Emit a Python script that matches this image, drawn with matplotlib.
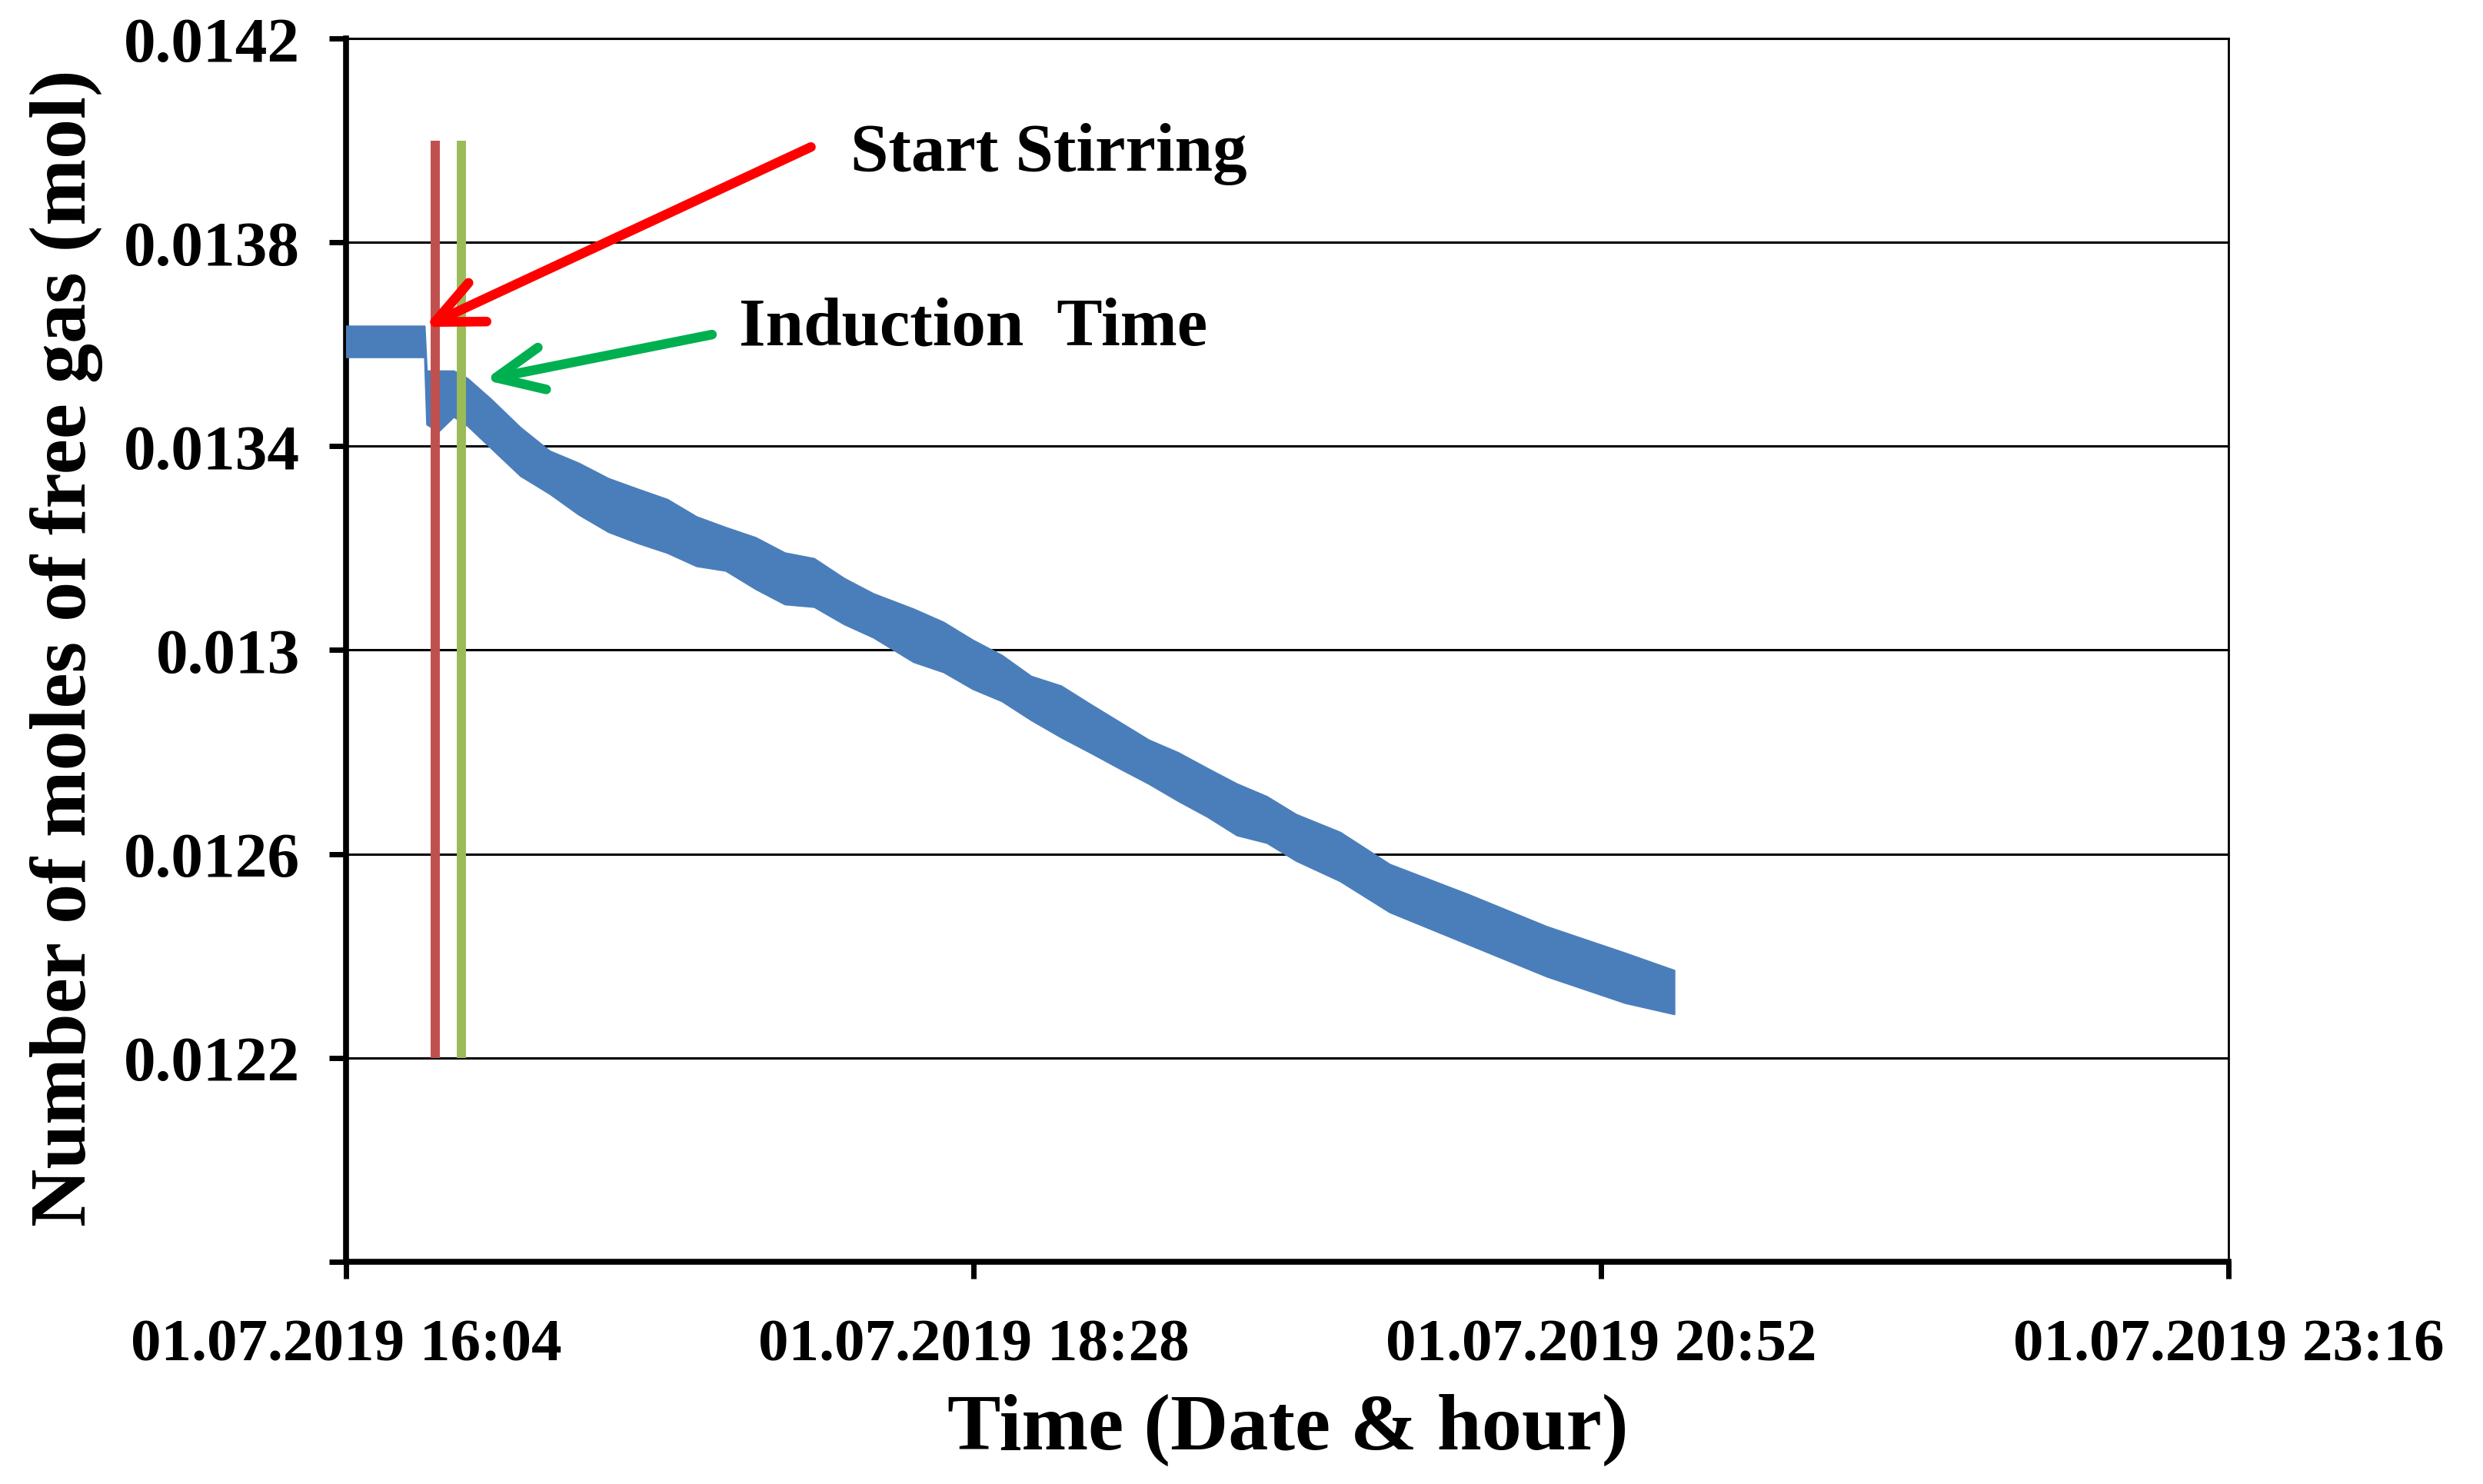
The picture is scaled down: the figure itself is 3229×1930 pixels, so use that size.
import matplotlib
matplotlib.use('Agg')
import matplotlib.pyplot as plt

# minutes after 01.07.2019 16:04 and the upper / lower edges of the noisy gas curve
minutes = [0, 18.0, 18.5, 21.2, 24.7, 27.9, 33.2, 40.0, 46.7, 53.4, 60.2, 67.0, 73.7, 80.4,
           87.1, 94.0, 100.7, 107.4, 114.3, 121.0, 130.2, 137.1, 143.8, 150.5, 157.2, 164.1,
           170.8, 177.5, 184.2, 191.0, 197.7, 204.4, 211.3, 218.0, 228.1, 239.5, 257.5, 275.5,
           293.5, 304.8]
upper = [0.013636, 0.013636, 0.013548, 0.013548, 0.013548, 0.013533, 0.013493, 0.013437,
         0.013391, 0.013367, 0.013337, 0.013316, 0.013296, 0.013262, 0.013241, 0.013221,
         0.013191, 0.013180, 0.013141, 0.013111, 0.013081, 0.013055, 0.013020, 0.012990,
         0.012949, 0.012930, 0.012894, 0.012859, 0.012824, 0.012799, 0.012768, 0.012738,
         0.012713, 0.012678, 0.012643, 0.012580, 0.012521, 0.012458, 0.012406, 0.012372]
lower = [0.013575, 0.013575, 0.013443, 0.013429, 0.013458, 0.013440, 0.013397, 0.013342,
         0.013307, 0.013266, 0.013232, 0.013210, 0.013191, 0.013165, 0.013156, 0.013120,
         0.013090, 0.013085, 0.013051, 0.013025, 0.012977, 0.012957, 0.012924, 0.012900,
         0.012863, 0.012829, 0.012799, 0.012768, 0.012738, 0.012704, 0.012673, 0.012637,
         0.012622, 0.012587, 0.012547, 0.012486, 0.012423, 0.012360, 0.012308, 0.012286]

stir_time = 20.4
induction_time = 26.5
marker_bottom = 0.0122
marker_top = 0.0140

yticks = [0.0118, 0.0122, 0.0126, 0.0130, 0.0134, 0.0138, 0.0142]
ytick_labels = ['', '0.0122', '0.0126', '0.013', '0.0134', '0.0138', '0.0142']
xticks = [0, 144, 288, 432]
xtick_labels = ['01.07.2019 16:04', '01.07.2019 18:28', '01.07.2019 20:52', '01.07.2019 23:16']

plt.rcParams['font.family'] = ['Liberation Serif', 'DejaVu Serif']
plt.rcParams['font.weight'] = 'bold'

fig = plt.figure(figsize=(32.3, 19.31), dpi=100)
ax = fig.add_axes([0.1393, 0.1497, 0.7579, 0.8239])

ax.fill_between(minutes, lower, upper, color='#4a7ebb', lw=1.5, edgecolor='#4a7ebb', zorder=3)

ax.vlines(stir_time, marker_bottom, marker_top, color='#c0504d', lw=8.6, zorder=4)
ax.vlines(induction_time, marker_bottom, marker_top, color='#9bbb59', lw=8.6, zorder=4)

ax.annotate('', xy=(18.0, 0.013634), xytext=(106.7, 0.013987),
            arrowprops=dict(arrowstyle='->,head_length=0.55,head_width=0.25',
                            color='#ff0000', lw=9, mutation_scale=80, shrinkA=0, shrinkB=0),
            zorder=6)
ax.annotate('', xy=(31.8, 0.01353), xytext=(84.0, 0.013619),
            arrowprops=dict(arrowstyle='->,head_length=0.55,head_width=0.25',
                            color='#00b050', lw=9, mutation_scale=80, shrinkA=0, shrinkB=0),
            zorder=6)
ax.text(115.8, 0.013975, 'Start Stirring', fontsize=64, fontweight='bold', va='center', ha='left')
ax.text(90.2, 0.013633, 'Induction  Time', fontsize=64, fontweight='bold', va='center', ha='left')

ax.set_xlim(0, 432)
ax.set_ylim(0.0118, 0.0142)
ax.set_yticks(yticks)
ax.set_yticklabels(ytick_labels, fontsize=60, fontweight='bold')
ax.set_xticks(xticks)
ax.set_xticklabels(xtick_labels, fontsize=57, fontweight='bold')
ax.tick_params(axis='y', length=16, width=5, pad=27)
ax.tick_params(axis='x', length=16, width=5, pad=37)

ax.grid(axis='y', color='black', lw=2.2, zorder=1)
ax.set_axisbelow(True)
ax.spines['left'].set_linewidth(5.5)
ax.spines['bottom'].set_linewidth(5.5)
ax.spines['right'].set_linewidth(2)
ax.spines['top'].set_linewidth(2.2)

fig.text(0.5186, 0.0368, 'Time (Date & hour)', fontsize=75, fontweight='bold', ha='center', va='center')
fig.text(0.0269, 0.5635, 'Number of moles of free gas (mol)', fontsize=75, fontweight='bold',
         ha='center', va='center', rotation=90)

plt.savefig('out.png', dpi=100)
